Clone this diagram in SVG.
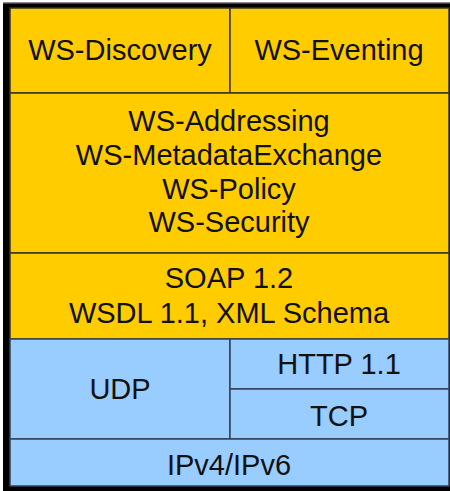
<svg xmlns="http://www.w3.org/2000/svg" width="450" height="491" viewBox="0 0 450 491">
<style>
.y{fill:#FFCC00;stroke:#3a3320;stroke-width:1.5}
.b{fill:#99CCFF;stroke:#34405a;stroke-width:1.5}
text{font-family:"Liberation Sans",Arial,sans-serif;font-size:29px;fill:#111;text-anchor:middle}
</style>
<rect x="0" y="0" width="450" height="491" fill="#ffffff"/>
<rect x="3" y="2" width="447" height="489" fill="#000"/>
<rect x="3" y="2" width="447" height="1.5" fill="#888"/>
<g id="ws-discovery"><rect class="y" x="10" y="8" width="220" height="85"/><text x="120" y="60">WS-Discovery</text></g>
<g id="ws-eventing"><rect class="y" x="230" y="8" width="219" height="85"/><text x="339" y="60">WS-Eventing</text></g>
<g id="ws-core"><rect class="y" x="10" y="93" width="439" height="160"/>
<text x="229" y="131">WS-Addressing</text>
<text x="229" y="165">WS-MetadataExchange</text>
<text x="229" y="199">WS-Policy</text>
<text x="229" y="232">WS-Security</text></g>
<g id="soap"><rect class="y" x="10" y="253" width="439" height="86"/>
<text x="229" y="288">SOAP 1.2</text>
<text x="229" y="323">WSDL 1.1, XML Schema</text></g>
<g id="udp"><rect class="b" x="10" y="339" width="220" height="100"/><text x="120" y="399">UDP</text></g>
<g id="http"><rect class="b" x="230" y="339" width="219" height="50"/><text x="339" y="374">HTTP 1.1</text></g>
<g id="tcp"><rect class="b" x="230" y="389" width="219" height="50"/><text x="339" y="426">TCP</text></g>
<g id="ip"><rect class="b" x="10" y="439" width="439" height="47"/><text x="229" y="475">IPv4/IPv6</text></g>
<g id="connectors"></g>
</svg>
